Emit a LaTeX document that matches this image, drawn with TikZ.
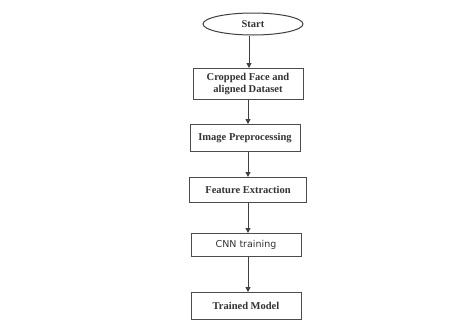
\documentclass[tikz,border=0pt]{standalone}
\usepackage{fontspec}
\setmainfont{Liberation Serif}
\newfontfamily\cnnfont{DejaVu Sans}
\usetikzlibrary{shapes.geometric,arrows.meta}
\begin{document}
\begin{tikzpicture}[x=1pt,y=-1pt,
  box/.style={draw=black!70,line width=1pt,minimum width=110pt,align=center,
    font=\fontsize{10.5}{12}\selectfont\bfseries,text=black!80,inner sep=2pt},
  term/.style={ellipse,draw=black!75,line width=1pt,minimum width=100pt,minimum height=22pt,
    font=\fontsize{10.5}{12}\selectfont\bfseries,text=black!80,inner sep=1pt},
  flow/.style={draw=black!75,line width=1pt,-{Triangle[length=5pt,width=5pt]}}]
\useasboundingbox (0,0) rectangle (451,322);
\node[term] (start) at (253,24) {Start};
\node[box,minimum height=31pt] (crop) at (248,84) {Cropped Face and\\aligned Dataset};
\node[box,minimum height=27pt] (pre) at (245,138) {Image Preprocessing};
\node[box,minimum height=25pt,minimum width=117pt] (feat) at (248,190) {Feature Extraction};
\node[box,minimum height=23pt,font=\fontsize{9.5}{11}\selectfont\cnnfont] (cnn) at (246,245) {CNN training};
\node[box,minimum height=27pt] (model) at (246,306) {Trained Model};
\draw[flow] (start.south -| 249,0) -- (crop.north -| 249,0);
\draw[flow] (crop.south -| 248,0) -- (pre.north -| 248,0);
\draw[flow] (pre.south -| 248,0) -- (feat.north -| 248,0);
\draw[flow] (feat.south -| 248,0) -- (cnn.north -| 248,0);
\draw[flow] (cnn.south -| 248,0) -- (model.north -| 248,0);
\end{tikzpicture}
\end{document}
